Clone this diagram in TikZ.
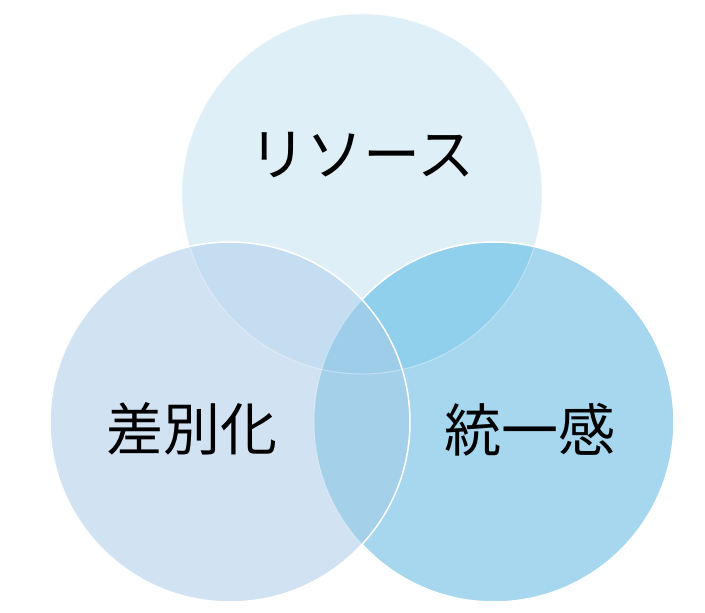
\documentclass[tikz,border=0pt]{standalone}
\usepackage{fontspec}
\newfontfamily\jpfont{Noto Sans CJK JP}
\usepackage{tikz}
\tikzset{x=1pt,y=1pt}
\definecolor{resblue}{HTML}{DEEFF8}
\definecolor{diffblue}{HTML}{D1E3F3}
\definecolor{uniblue}{HTML}{A6D7EE}
\definecolor{resdiff}{HTML}{C4DDF1}
\definecolor{resuni}{HTML}{91D0EC}
\definecolor{diffuni}{HTML}{A5D0EA}
\definecolor{allblue}{HTML}{9ECDE9}
\tikzset{
  ring/.style={draw=white, line width=1.5pt},
  faintring/.style={draw=white, draw opacity=.35, line width=1pt},
  venntext/.style={font=\jpfont\fontsize{57}{57}\selectfont, inner sep=0pt}
}
\def\rad{180}

\begin{document}
\begin{tikzpicture}
    \useasboundingbox (0,0) rectangle (705,613);
    \coordinate (res) at (362,419);
    \coordinate (diff) at (230,191);
    \coordinate (uni) at (494,191);

    % top and right discs
    \fill[resblue] (res) circle[radius=\rad];
    \fill[uniblue] (uni) circle[radius=\rad];
    \begin{scope}
      \clip (res) circle[radius=\rad];
      \fill[resuni] (uni) circle[radius=\rad];
    \end{scope}
    \draw[ring] (uni) circle[radius=\rad];

    % left disc and its overlaps
    \fill[diffblue] (diff) circle[radius=\rad];
    \begin{scope}
      \clip (diff) circle[radius=\rad];
      \fill[resdiff] (res) circle[radius=\rad];
      \fill[diffuni] (uni) circle[radius=\rad];
      \clip (res) circle[radius=\rad];
      \fill[allblue] (uni) circle[radius=\rad];
    \end{scope}
    \draw[faintring] (res) circle[radius=\rad];
    \draw[faintring] (uni) circle[radius=\rad];
    \draw[ring] (diff) circle[radius=\rad];

    % labels
    \node[venntext] (resource) at (362,458) {リソース};
    \node[venntext] (differ) at (192,184) {差別化};
    \node[venntext] (unity) at (530,183) {統一感};
\end{tikzpicture}
\end{document}
